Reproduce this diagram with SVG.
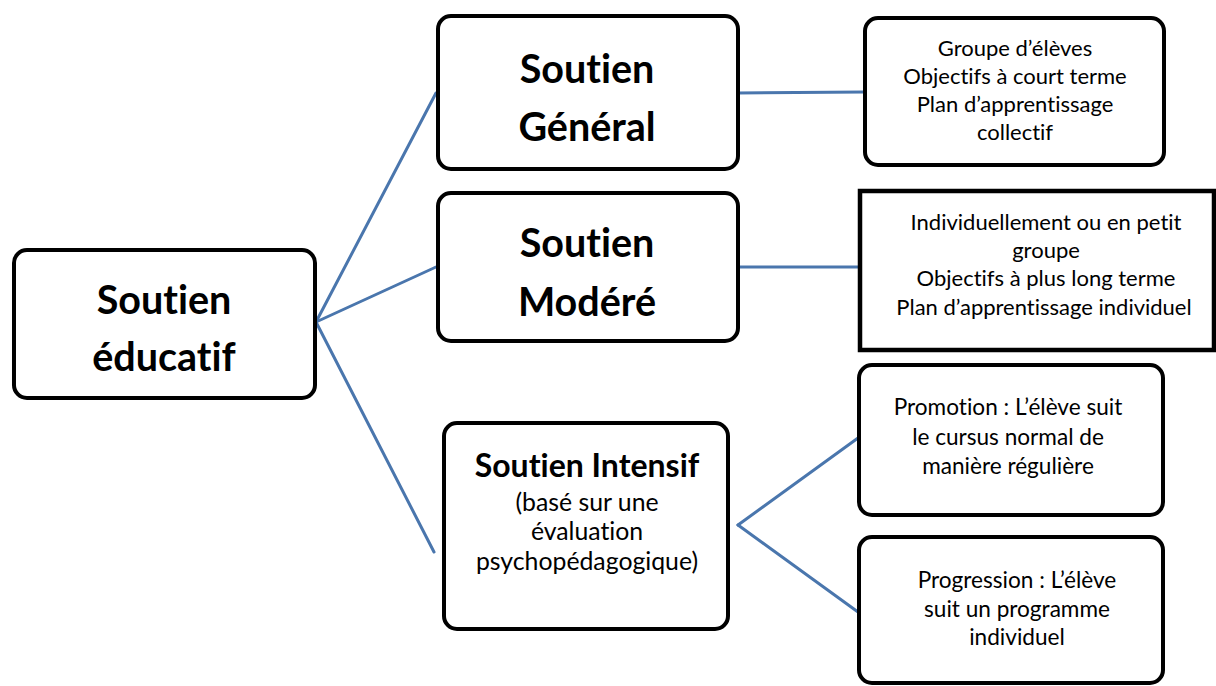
<svg xmlns="http://www.w3.org/2000/svg" width="1216" height="686" viewBox="0 0 1216 686">
<style>
text{font-variant-ligatures:none;font-family:Lato,"Open Sans",sans-serif;fill:#000;text-anchor:middle}
.box{fill:#fff;stroke:#000;stroke-width:4}
.sq{fill:#fff;stroke:#000;stroke-width:4.5}
.conn{stroke:#4a76ad;stroke-width:3;fill:none;stroke-linecap:round}
.t{font-weight:bold;font-size:39.5px}
.t2{font-weight:bold;font-size:32px}
.b{font-size:22px}
.p{font-size:22.6px}
.s{font-size:24.8px}
</style>
<rect width="1216" height="686" fill="#fff"/>
<g id="connectors">
<line class="conn" x1="316" y1="322" x2="436" y2="93"/>
<line class="conn" x1="316" y1="322" x2="436" y2="267"/>
<line class="conn" x1="316" y1="322" x2="434" y2="552"/>
<line class="conn" x1="738" y1="93" x2="864" y2="92"/>
<line class="conn" x1="738" y1="267" x2="859" y2="267"/>
<line class="conn" x1="738" y1="525" x2="858" y2="438"/>
<line class="conn" x1="738" y1="525" x2="858" y2="612"/>
</g>
<g id="root">
<rect class="box" x="14" y="250" width="301" height="148" rx="13"/>
<text class="t" x="164" y="314">Soutien</text>
<text class="t" x="164" y="371">éducatif</text>
</g>
<g id="general">
<rect class="box" x="438" y="16" width="300" height="153" rx="13"/>
<text class="t" x="587" y="83">Soutien</text>
<text class="t" x="587" y="141">Général</text>
</g>
<g id="modere">
<rect class="box" x="438" y="193" width="300" height="148" rx="13"/>
<text class="t" x="587" y="257">Soutien</text>
<text class="t" x="587" y="316">Modéré</text>
</g>
<g id="intensif">
<rect class="box" x="444" y="423" width="284" height="206" rx="13"/>
<text class="t2" x="587" y="477">Soutien Intensif</text>
<text class="s" x="587" y="511">(basé sur une</text>
<text class="s" x="587" y="540">évaluation</text>
<text class="s" x="587" y="570">psychopédagogique)</text>
</g>
<g id="general-details">
<rect class="box" x="865" y="18" width="299" height="147" rx="13"/>
<text class="b" x="1015" y="56">Groupe d’élèves</text>
<text class="b" x="1015" y="84">Objectifs à court terme</text>
<text class="b" x="1015" y="112">Plan d’apprentissage</text>
<text class="b" x="1015" y="140">collectif</text>
</g>
<g id="modere-details">
<rect class="sq" x="860" y="191" width="354" height="159"/>
<text class="b" x="1046" y="230">Individuellement ou en petit</text>
<text class="b" x="1046" y="258">groupe</text>
<text class="b" x="1046" y="286">Objectifs à plus long terme</text>
<text class="b" x="1044" y="315">Plan d’apprentissage individuel</text>
</g>
<g id="promotion">
<rect class="box" x="859" y="365" width="304" height="150" rx="13"/>
<text class="p" x="1008" y="415">Promotion : L’élève suit</text>
<text class="p" x="1008" y="445">le cursus normal de</text>
<text class="p" x="1008" y="474">manière régulière</text>
</g>
<g id="progression">
<rect class="box" x="859" y="537" width="304" height="146" rx="13"/>
<text class="p" x="1017" y="588">Progression : L’élève</text>
<text class="p" x="1017" y="617">suit un programme</text>
<text class="p" x="1017" y="645">individuel</text>
</g>
</svg>
